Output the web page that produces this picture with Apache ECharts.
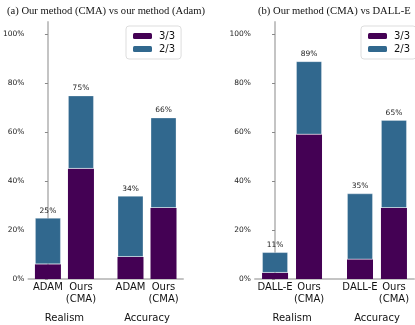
<!DOCTYPE html>
<html>
<head>
<meta charset="utf-8">
<script src="https://cdn.jsdelivr.net/npm/echarts@6/dist/echarts.min.js"></script>
<style>
  html, body { margin: 0; padding: 0; background: #fff; }
  #main { width: 415px; height: 325px; }
</style>
</head>
<body>
<div id="main"></div>
<script>
// 数据
var groups = ['Realism', 'Accuracy'];
var labelsA = ['ADAM', 'Ours\n(CMA)', 'ADAM', 'Ours\n(CMA)'];
var labelsB = ['DALL-E', 'Ours\n(CMA)', 'DALL-E', 'Ours\n(CMA)'];
var fullA = [6, 45, 9, 29];      // 3/3
var totalA = [25, 75, 34, 66];   // 3/3 + 2/3
var fullB = [2.5, 59, 8, 29];
var totalB = [11, 89, 35, 65];
var yTicks = [0, 20, 40, 60, 80, 100];

// 柱子在x轴上的位置 (组内间隔1, 组间间隔1.5)
var slots = [0, 1, 2.5, 3.5];
var groupSlots = [0.5, 3];

var purple = '#440154';
var blue = '#31688e';

// 数据写成 [值, 位置], 让堆叠作用在y上
function pairs(vals) {
    return vals.map(function (v, i) { return [v, slots[i]]; });
}
function partial(full, total) {
    return total.map(function (t, i) { return [t - full[i], slots[i]]; });
}
function near(v, arr) {
    for (var i = 0; i < arr.length; i++) {
        if (Math.abs(v - arr[i]) < 0.01) return i;
    }
    return -1;
}

function xAxes(labels, gi) {
    return [
        {
            type: 'value', gridIndex: gi, min: -0.59, max: 4.09,
            axisLine: { show: true, lineStyle: { color: '#c4c4c4', width: 2 } },
            axisTick: { show: false },
            splitLine: { show: false },
            axisLabel: {
                customValues: slots,
                margin: 2,
                fontSize: 10,
                lineHeight: 12,
                color: '#111',
                fontFamily: 'DejaVu Sans',
                verticalAlign: 'top',
                formatter: function (v) {
                    var i = near(v, slots);
                    return i < 0 ? '' : labels[i];
                }
            }
        },
        {
            type: 'value', gridIndex: gi, min: -0.59, max: 4.09, position: 'bottom',
            axisLine: { show: false },
            axisTick: { show: false },
            splitLine: { show: false },
            axisLabel: {
                customValues: groupSlots,
                margin: 34,
                fontSize: 10,
                color: '#111',
                fontFamily: 'DejaVu Sans',
                verticalAlign: 'top',
                formatter: function (v) {
                    var i = near(v, groupSlots);
                    return i < 0 ? '' : groups[i];
                }
            }
        }
    ];
}

function yAxis(gi) {
    return {
        type: 'value', gridIndex: gi, min: 0, max: 105,
        axisLine: { show: true, lineStyle: { color: '#c4c4c4', width: 2 } },
        axisTick: { show: true, customValues: yTicks, length: 3, lineStyle: { color: '#888' } },
        splitLine: { show: false },
        axisLabel: {
            customValues: yTicks,
            margin: 4,
            fontSize: 7.5,
            color: '#222',
            fontFamily: 'DejaVu Sans',
            formatter: '{value}%'
        }
    };
}

function stackSeries(full, total, xi, yi, key) {
    return [
        {
            name: '3/3', type: 'bar', stack: key,
            xAxisIndex: xi, yAxisIndex: yi,
            encode: { x: 1, y: 0 },
            barWidth: 26,
            itemStyle: { color: purple, borderWidth: 0 },
            data: pairs(full)
        },
        {
            name: '2/3', type: 'bar', stack: key,
            xAxisIndex: xi, yAxisIndex: yi,
            encode: { x: 1, y: 0 },
            barWidth: 26,
            itemStyle: { color: blue, borderColor: 'rgba(255,255,255,0.3)', borderWidth: 1 },
            label: {
                show: true, position: 'top', distance: 3,
                fontSize: 7.5, color: '#222', fontFamily: 'DejaVu Sans',
                formatter: function (p) { return total[p.dataIndex] + '%'; }
            },
            data: partial(full, total)
        }
    ];
}

function legendAt(left) {
    return {
        left: left, top: 26, orient: 'vertical',
        data: ['3/3', '2/3'],
        itemWidth: 19, itemHeight: 6, itemGap: 3,
        padding: [5, 6, 5, 7],
        borderColor: '#ddd', borderWidth: 1, borderRadius: 3,
        backgroundColor: '#fff',
        selectedMode: false,
        textStyle: { fontSize: 10, color: '#111', fontFamily: 'DejaVu Sans', padding: [0, 0, 0, 2] },
        itemStyle: { borderWidth: 0 }
    };
}

var myChart = echarts.init(document.getElementById('main'));
var option = {
    animation: false,
    title: [
        {
            text: '(a) Our method (CMA) vs our method (Adam)',
            left: 7, top: 6, padding: 0,
            textStyle: { fontFamily: 'Liberation Serif', fontSize: 10.6, fontWeight: 'normal', color: '#111' }
        },
        {
            text: '(b) Our method (CMA) vs DALL-E',
            left: 258, top: 6, padding: 0,
            textStyle: { fontFamily: 'Liberation Serif', fontSize: 10.6, fontWeight: 'normal', color: '#111' }
        }
    ],
    legend: [legendAt(126), legendAt(361)],
    grid: [
        { left: 24, right: 232, top: 22, bottom: 46 },
        { left: 255, right: 1, top: 22, bottom: 46 }
    ],
    xAxis: xAxes(labelsA, 0).concat(xAxes(labelsB, 1)),
    yAxis: [yAxis(0), yAxis(1)],
    series: stackSeries(fullA, totalA, 0, 0, 'a').concat(stackSeries(fullB, totalB, 2, 1, 'b'))
};
myChart.setOption(option);
</script>
</body>
</html>
